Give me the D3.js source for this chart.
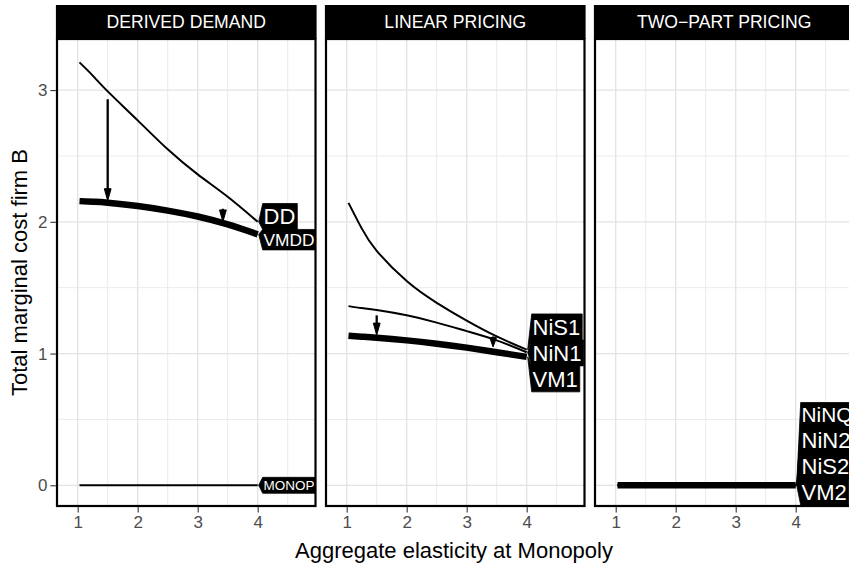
<!DOCTYPE html>
<html>
<head>
<meta charset="utf-8">
<script src="https://cdn.jsdelivr.net/npm/d3@7"></script>
<style>
  html, body { margin: 0; padding: 0; background: #fff; }
  svg { display: block; font-family: "Liberation Sans", Arial, Helvetica, sans-serif; }
</style>
</head>
<body>
<svg id="chart" width="849" height="565"></svg>
<script>
// ---- data ---------------------------------------------------------------
const panels = ["DERIVED DEMAND", "LINEAR PRICING", "TWO\u2212PART PRICING"];
const elasticity = [1.03, 1.25, 1.5, 2, 2.5, 3, 3.5, 4];
const xTicks = [1, 2, 3, 4];
const yTicks = [0, 1, 2, 3];

// derived demand
const costDD    = [3.21, 3.11, 2.99, 2.77, 2.55, 2.36, 2.19, 2.00];
const costVMDD  = [2.157, 2.152, 2.145, 2.12, 2.085, 2.04, 1.98, 1.905];
const costMONOP = [0, 0, 0, 0, 0, 0, 0, 0];
// linear pricing
const costNiS1  = [2.144, 1.95, 1.78, 1.55, 1.385, 1.25, 1.13, 1.03];
const costNiN1  = [1.36, 1.345, 1.33, 1.29, 1.235, 1.17, 1.10, 1.01];
const costVM1   = [1.135, 1.128, 1.12, 1.10, 1.075, 1.045, 1.01, 0.975];
// two-part pricing
const costNiNQ  = [0, 0, 0, 0, 0, 0, 0, 0];
const costNiN2  = [0, 0, 0, 0, 0, 0, 0, 0];
const costNiS2  = [0, 0, 0, 0, 0, 0, 0, 0];
const costVM2   = [0, 0, 0, 0, 0, 0, 0, 0];

// series per panel: [name, values, heavy]
const seriesByPanel = [
  [["DD", costDD, false], ["VMDD", costVMDD, true], ["MONOP", costMONOP, false]],
  [["NiS1", costNiS1, false], ["NiN1", costNiN1, false], ["VM1", costVM1, true]],
  [["NiNQ", costNiNQ, false], ["NiN2", costNiN2, false], ["NiS2", costNiS2, false], ["VM2", costVM2, true]]
];

// vertical arrows: [panel, elasticity, from, to]
const arrows = [
  [0, 1.5, 2.93, 2.16],
  [0, 3.42, 2.10, 2.00],
  [1, 1.5, 1.29, 1.14],
  [1, 3.44, 1.13, 1.05]
];

// ---- layout -------------------------------------------------------------
const svg = d3.select("#chart");
const panelX0 = [57, 326, 595];
const panelW = 258.5;
const stripTop = 5, panelTop = 39, panelBottom = 506;

const y = d3.scaleLinear().domain([-0.1571, 3.3876]).range([panelBottom, panelTop]);
const xDomain = [0.655, 0.655 + panelW / 60];

const defs = svg.append("defs");
const line = (x) => d3.line().x((d, i) => x(elasticity[i])).y(d => y(d)).curve(d3.curveNatural);

panels.forEach((title, p) => {
  const x0 = panelX0[p], x1 = x0 + panelW;
  const x = d3.scaleLinear().domain(xDomain).range([x0, x1]);
  const g = svg.append("g");

  defs.append("clipPath").attr("id", "clip" + p)
    .append("rect").attr("x", x0).attr("y", panelTop).attr("width", panelW).attr("height", panelBottom - panelTop);

  // grid
  const minorX = [1.5, 2.5, 3.5, 4.5], minorY = [0.5, 1.5, 2.5];
  const grid = g.append("g").attr("clip-path", `url(#clip${p})`);
  grid.selectAll(".mx").data(minorX).join("line")
    .attr("x1", d => x(d)).attr("x2", d => x(d)).attr("y1", panelTop).attr("y2", panelBottom)
    .attr("stroke", "#ebebeb").attr("stroke-width", 1);
  grid.selectAll(".my").data(minorY).join("line")
    .attr("y1", d => y(d)).attr("y2", d => y(d)).attr("x1", x0).attr("x2", x1)
    .attr("stroke", "#ebebeb").attr("stroke-width", 1);
  grid.selectAll(".gx").data(xTicks).join("line")
    .attr("x1", d => x(d)).attr("x2", d => x(d)).attr("y1", panelTop).attr("y2", panelBottom)
    .attr("stroke", "#e3e3e3").attr("stroke-width", 1.3);
  grid.selectAll(".gy").data(yTicks).join("line")
    .attr("y1", d => y(d)).attr("y2", d => y(d)).attr("x1", x0).attr("x2", x1)
    .attr("stroke", "#e3e3e3").attr("stroke-width", 1.3);

  // curves
  const plot = g.append("g").attr("clip-path", `url(#clip${p})`);
  seriesByPanel[p].forEach(([name, vals, heavy]) => {
    plot.append("path").datum(vals).attr("d", line(x)).attr("fill", "none")
      .attr("stroke", "#000").attr("stroke-width", heavy ? 6.5 : 2);
  });

  // arrows
  arrows.filter(a => a[0] === p).forEach(([, ax, from, to]) => {
    const px = x(ax), yA = y(from), yB = y(to);
    const head = Math.min(12, (yB - yA) * 0.9);
    plot.append("line").attr("x1", px).attr("x2", px).attr("y1", yA).attr("y2", yB - head + 1)
      .attr("stroke", "#000").attr("stroke-width", 2.3);
    plot.append("path")
      .attr("d", `M${px - 3.4},${yB - head}L${px + 3.4},${yB - head}L${px},${yB}Z`)
      .attr("fill", "#000").attr("stroke", "#000").attr("stroke-width", 1);
  });

  // direct labels at the last point, shrunk to fit and spread apart
  const tipX = x(elasticity[elasticity.length - 1]) + 1;
  const boxX = tipX + 4, textX = boxX + 0.8;
  const labG = plot.append("g");
  const labels = seriesByPanel[p].map(([name, vals], i) => {
    const t = labG.append("text").attr("x", textX).attr("y", 0).attr("font-size", 22).text(name);
    const w22 = t.node().getComputedTextLength();
    const size = Math.min(22, 22 * (x1 - textX - 1) / w22);
    t.attr("font-size", size);
    return { name, i, node: t, size, w: w22 * size / 22, h: size * 1.18, target: y(vals[vals.length - 1]) };
  });
  labels.sort((a, b) => a.target - b.target || a.i - b.i);
  // 1-D quadratic placement without overlap (pool adjacent violators)
  const c = [0];
  for (let i = 1; i < labels.length; i++) c[i] = c[i - 1] + (labels[i - 1].h + labels[i].h) / 2;
  let blocks = [];
  labels.forEach((l, i) => {
    blocks.push({ sum: l.target - c[i], n: 1 });
    while (blocks.length > 1 && blocks[blocks.length - 2].sum / blocks[blocks.length - 2].n > blocks[blocks.length - 1].sum / blocks[blocks.length - 1].n) {
      const b = blocks.pop();
      blocks[blocks.length - 1].sum += b.sum; blocks[blocks.length - 1].n += b.n;
    }
  });
  let k = 0;
  blocks.forEach(b => { for (let j = 0; j < b.n; j++, k++) labels[k].yc = b.sum / b.n + c[k]; });
  const last = labels[labels.length - 1];
  const over = last.yc + last.h / 2 - (panelBottom - 1);
  if (over > 0) labels.forEach(l => l.yc -= over);
  const first = labels[0];
  const under = (panelTop + 1) - (first.yc - first.h / 2);
  if (under > 0) labels.forEach(l => l.yc += under);

  labels.forEach(l => {
    const top = l.yc - l.h / 2, bot = l.yc + l.h / 2, right = textX + l.w + 2;
    labG.insert("path", "text")
      .attr("d", `M${tipX},${l.target}L${boxX},${top}L${right},${top}L${right},${bot}L${boxX},${bot}Z`)
      .attr("fill", "#000").attr("stroke", "#000").attr("stroke-width", 0.8);
    l.node.attr("y", l.yc).attr("dy", "0.35em").attr("fill", "#fff");
  });

  // panel border
  g.append("rect").attr("x", x0).attr("y", panelTop).attr("width", panelW).attr("height", panelBottom - panelTop)
    .attr("fill", "none").attr("stroke", "#000").attr("stroke-width", 2.2);

  // strip
  g.append("rect").attr("x", x0 - 1.1).attr("y", stripTop).attr("width", panelW + 2.2).attr("height", panelTop - stripTop)
    .attr("fill", "#000");
  g.append("text").attr("x", (x0 + x1) / 2).attr("y", (stripTop + panelTop) / 2).attr("dy", "0.35em")
    .attr("text-anchor", "middle").attr("fill", "#fff").attr("font-size", 17.6).text(title);

  // x axis
  const xAxis = g.append("g").attr("transform", `translate(0,${panelBottom + 1.1})`)
    .call(d3.axisBottom(x).tickValues(xTicks).tickFormat(d3.format("d")).tickSize(5.5).tickPadding(3));
  xAxis.select(".domain").remove();
  xAxis.selectAll(".tick line").attr("stroke", "#333").attr("stroke-width", 1.1);
  xAxis.selectAll(".tick text").attr("fill", "#4d4d4d").attr("font-size", 17).attr("font-family", null);

  if (p === 0) {
    const yAxis = g.append("g").attr("transform", `translate(${x0 - 1.1},0)`)
      .call(d3.axisLeft(y).tickValues(yTicks).tickFormat(d3.format("d")).tickSize(5.5).tickPadding(3));
    yAxis.select(".domain").remove();
    yAxis.selectAll(".tick line").attr("stroke", "#333").attr("stroke-width", 1.1);
    yAxis.selectAll(".tick text").attr("fill", "#4d4d4d").attr("font-size", 17).attr("font-family", null);
  }
});

// axis titles
svg.append("text").attr("x", 454).attr("y", 550).attr("dy", "0.35em").attr("text-anchor", "middle")
  .attr("font-size", 22).attr("fill", "#000").text("Aggregate elasticity at Monopoly");
svg.append("text").attr("transform", `translate(19,${(panelTop + panelBottom) / 2}) rotate(-90)`)
  .attr("dy", "0.35em").attr("text-anchor", "middle")
  .attr("font-size", 22).attr("fill", "#000").text("Total marginal cost firm B");
</script>
</body>
</html>
